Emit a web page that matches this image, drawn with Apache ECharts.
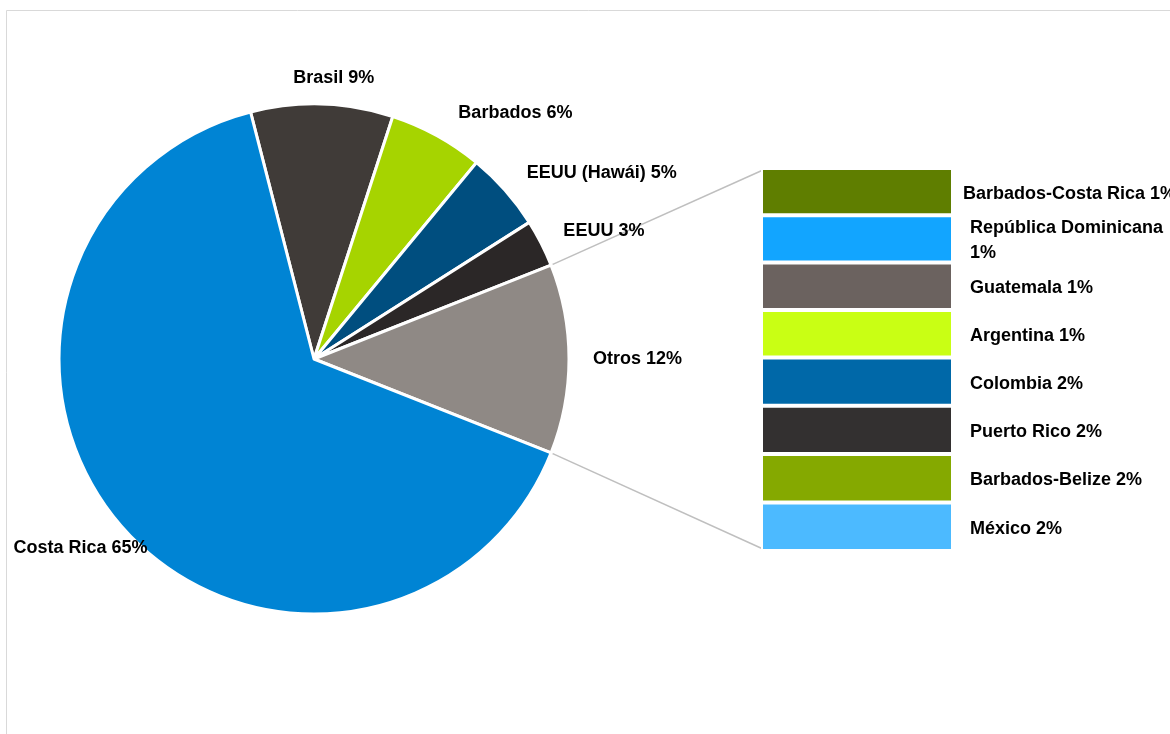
<!DOCTYPE html>
<html>
<head>
<meta charset="utf-8">
<script src="https://cdn.jsdelivr.net/npm/echarts@6/dist/echarts.min.js"></script>
<style>
html,body{margin:0;padding:0;background:#fff;}
#chart{width:1170px;height:734px;}
</style>
</head>
<body>
<div id="chart"></div>
<script>
// ---- data ----
const pieCategories = ['Brasil', 'Barbados', 'EEUU (Hawái)', 'EEUU', 'Otros', 'Costa Rica'];
const pieValues = [9, 6, 5, 3, 12, 65];
const pieColors = ['#403b38', '#a6d400', '#004e7f', '#2b2727', '#8f8985', '#0084d4'];

const barCategories = ['Barbados-Costa Rica', 'República Dominicana', 'Guatemala', 'Argentina',
                       'Colombia', 'Puerto Rico', 'Barbados-Belize', 'México'];
const barValues = [1.48, 1.48, 1.49, 1.49, 1.51, 1.51, 1.52, 1.52];
const barColors = ['#5f7e00', '#12a5ff', '#6b625f', '#c9ff14', '#0068a8', '#333030', '#85a900', '#4cbaff'];

// ---- layout ----
const W = 1170, H = 734;
const pieCx = 314, pieCy = 359, pieR = 255;
const otrosIdx = pieCategories.indexOf('Otros');
const pieTotal = pieValues.reduce((a, b) => a + b, 0);
const before = pieValues.slice(0, otrosIdx).reduce((a, b) => a + b, 0);
const startAngle = (before + pieValues[otrosIdx] / 2) / pieTotal * 360;
const halfOtros = pieValues[otrosIdx] / 2 / pieTotal * 360 * Math.PI / 180;

const grid = {left: 761, right: W - 953, top: 168, bottom: H - 551};
const barTotal = barValues.reduce((a, b) => a + b, 0);

const font = {fontFamily: 'Liberation Sans', fontWeight: 'bold', fontSize: 18, color: '#000'};

// text measuring, to wrap labels that do not fit to the right of the bar
const mctx = document.createElement('canvas').getContext('2d');
mctx.font = 'bold 18px "Liberation Sans"';
const barLabelRoom = 200;

// per-label fine placement of the outside labels (label line lengths)
const pieLabelLines = {
  'Barbados': {length: 26, length2: 7},
  'EEUU': {length: 26, length2: -3},
  'Otros': {length: 26, length2: -4},
  'Costa Rica': {length: 31, length2: -50}
};

const pieData = pieCategories.map((n, i) => {
  const d = {name: n, value: pieValues[i], itemStyle: {color: pieColors[i]}};
  if (pieLabelLines[n]) d.labelLine = pieLabelLines[n];
  return d;
});

const barSeries = barCategories.map((n, i) => ({
  type: 'bar',
  name: n,
  stack: 'otros',
  barWidth: '100%',
  data: [barValues[i]],
  itemStyle: {color: barColors[i], borderColor: '#fff', borderWidth: 2},
  label: Object.assign({
    show: true,
    position: 'right',
    distance: i === 0 ? 10 : 17,
    offset: [0, 2],
    lineHeight: 25,
    formatter: p => {
      const pct = Math.round(p.value) + '%';
      const full = p.seriesName + ' ' + pct;
      return (i > 0 && mctx.measureText(full).width > barLabelRoom) ? p.seriesName + '\n' + pct : full;
    }
  }, font),
  emphasis: {disabled: true},
  silent: true
}));

const chart = echarts.init(document.getElementById('chart'), null, {renderer: 'canvas'});

function pt(r, a) { return [pieCx + r * Math.cos(a), pieCy - r * Math.sin(a)]; }
const pTop = pt(pieR, halfOtros), pBot = pt(pieR, -halfOtros);

chart.setOption({
  animation: false,
  backgroundColor: '#fff',
  grid: grid,
  xAxis: {type: 'category', data: ['Otros'], show: false},
  yAxis: {type: 'value', min: 0, max: barTotal, inverse: true, show: false},
  graphic: [
    {type: 'rect', shape: {x: 6.5, y: 10.5, width: W, height: H}, style: {fill: 'none', stroke: '#d9d9d9', lineWidth: 1}, silent: true, z: -10},
    {type: 'line', shape: {x1: pTop[0], y1: pTop[1], x2: grid.left + 2, y2: grid.top + 2}, style: {stroke: '#bfbfbf', lineWidth: 1.5}, silent: true},
    {type: 'line', shape: {x1: pBot[0], y1: pBot[1], x2: grid.left + 2, y2: H - grid.bottom - 2}, style: {stroke: '#bfbfbf', lineWidth: 1.5}, silent: true}
  ],
  series: [
    {
      type: 'pie',
      center: [pieCx, pieCy],
      radius: [0, pieR],
      startAngle: startAngle,
      clockwise: true,
      avoidLabelOverlap: false,
      silent: true,
      itemStyle: {borderColor: '#fff', borderWidth: 3},
      label: Object.assign({
        show: true,
        position: 'outside',
        distanceToLabelLine: 2,
        formatter: p => p.name + ' ' + Math.round(p.value) + '%'
      }, font),
      labelLine: {show: false, length: 26, length2: 0},
      labelLayout: function (p) {
        if (p.dataIndex === 0) return {align: 'center', dx: 9};
      },
      data: pieData
    }
  ].concat(barSeries)
});
</script>
</body>
</html>
